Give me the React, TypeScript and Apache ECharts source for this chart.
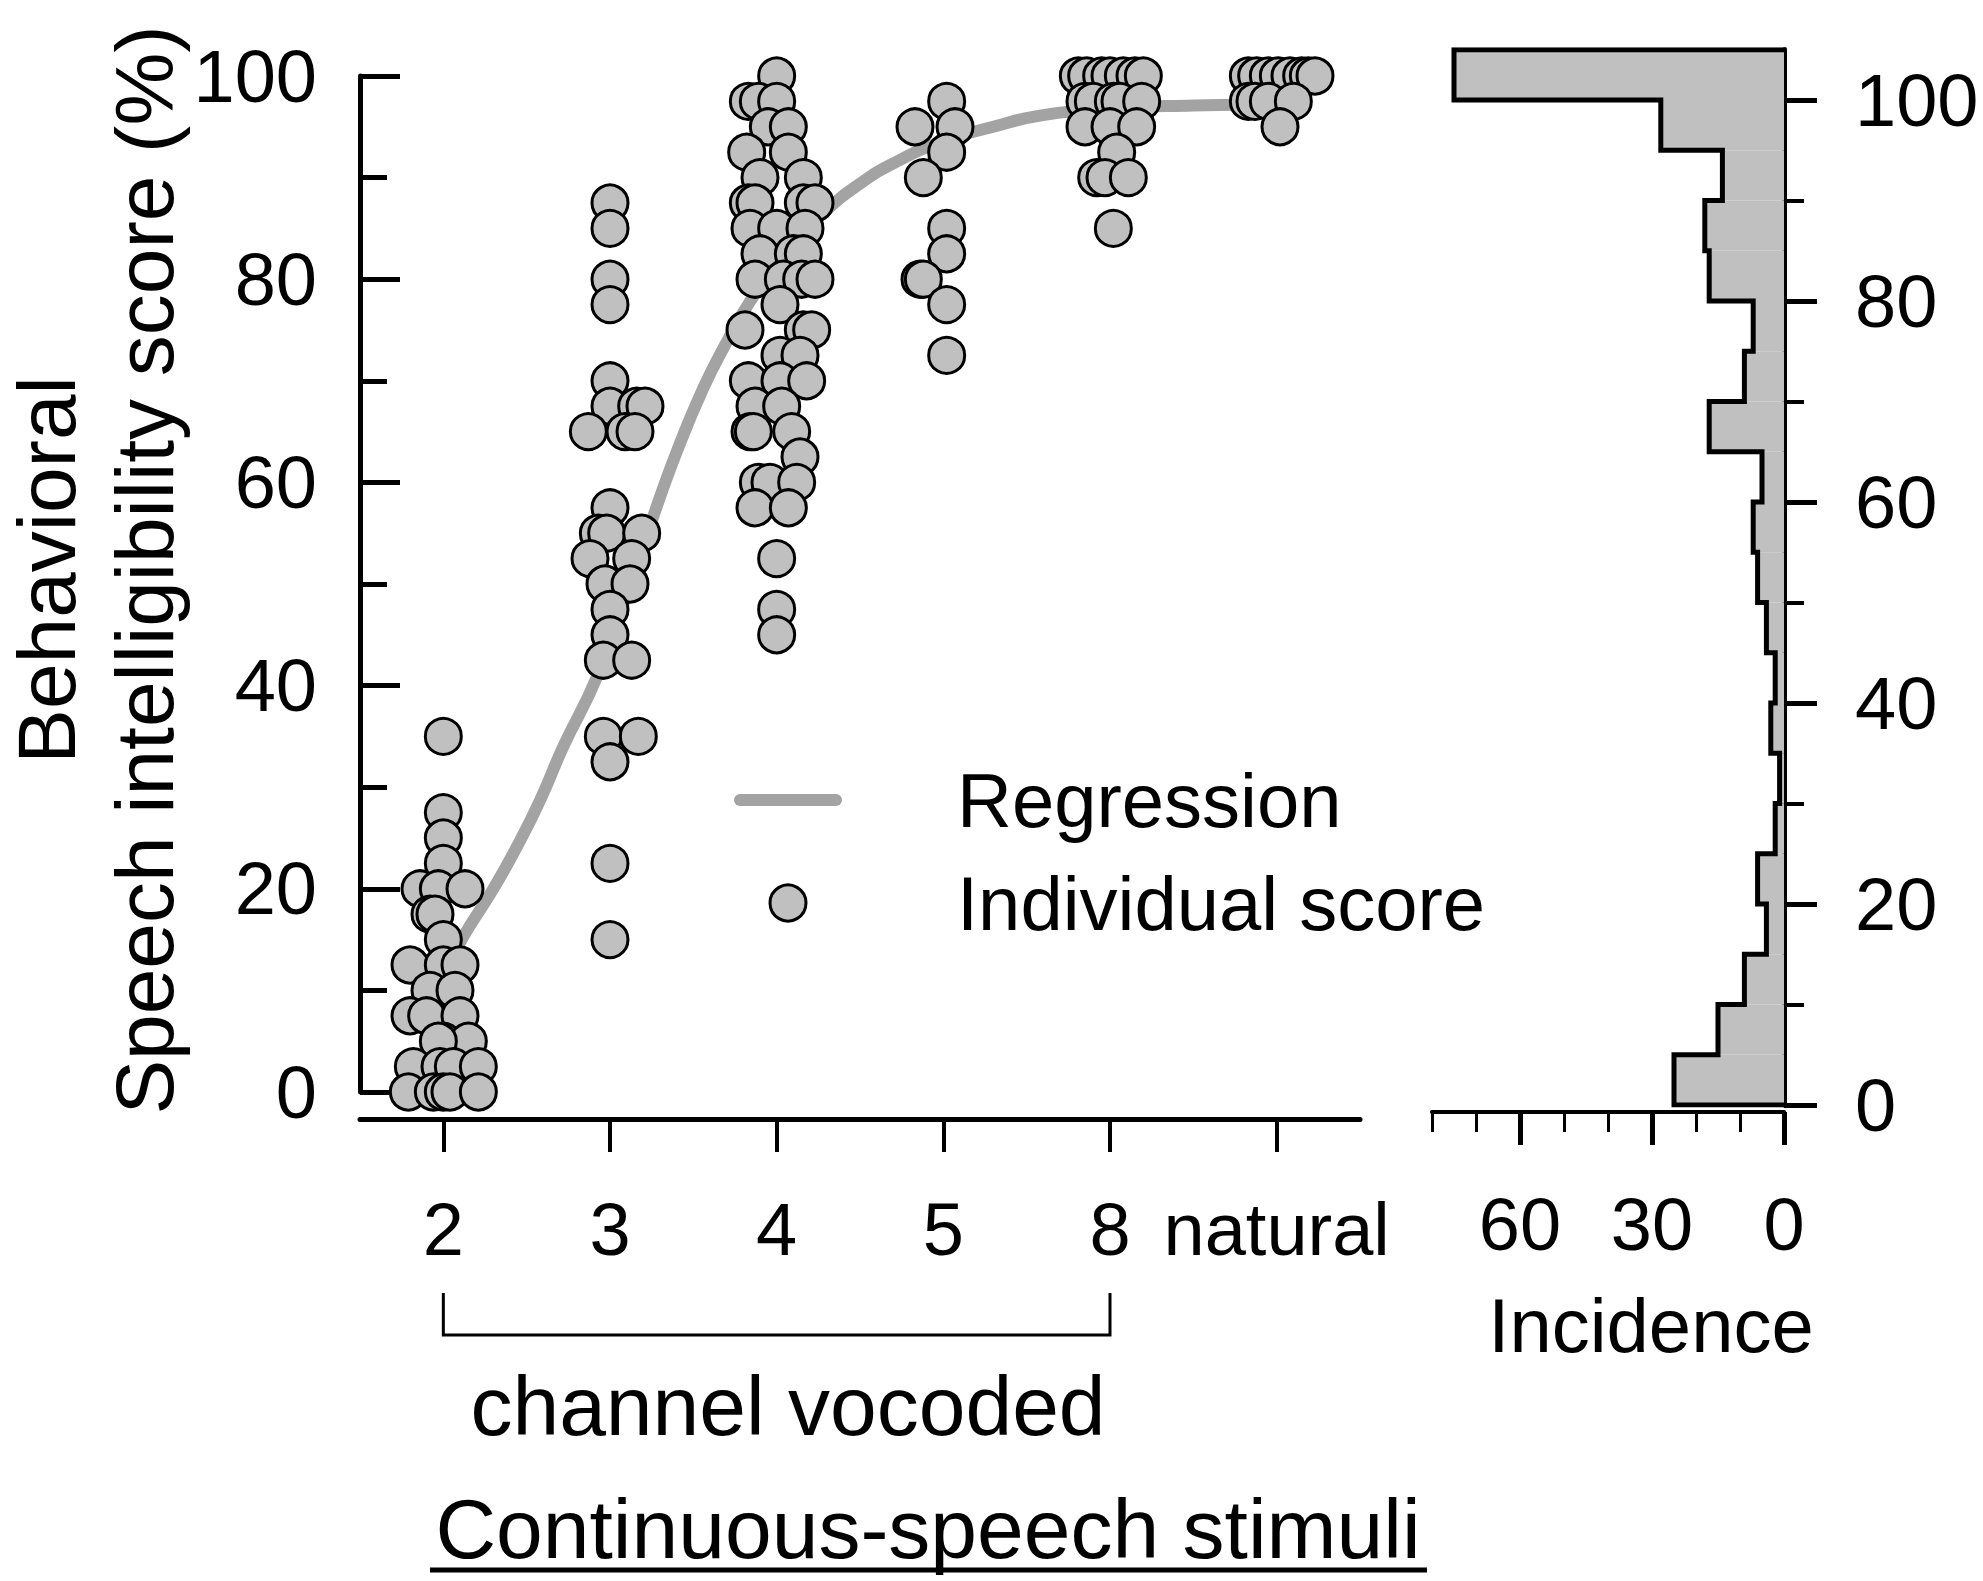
import React, { useEffect, useRef } from "react";
import * as echarts from "echarts";

const FONT = '"Liberation Sans", Arial, sans-serif';

// Stimulus conditions (x categories)
const categories = ["2", "3", "4", "5", "8", "natural"];

// Individual scores per condition: [horizontal jitter in category units, score %]
const scores2ch = [
  [0, 35], [0, 27.5], [0, 25], [0, 22.5],
  [-0.14, 20], [-0.03, 20], [0.13, 20], [-0.08, 17.5], [-0.05, 17.5], [0, 15],
  [-0.2, 12.5], [0, 12.5], [0.1, 12.5], [-0.08, 10], [0.07, 10],
  [-0.2, 7.5], [-0.1, 7.5], [0.1, 7.5], [0, 5], [0.15, 5], [-0.03, 5],
  [-0.18, 2.5], [-0.02, 2.5], [0.06, 2.5], [0.21, 2.5],
  [-0.21, 0], [-0.06, 0], [0, 0], [0.04, 0], [0.21, 0],
];
const scores3ch = [
  [0, 87.5], [0, 85], [0, 80], [0, 77.5], [0, 70],
  [0, 67.5], [0.16, 67.5], [0.21, 67.5], [-0.13, 65], [0.09, 65], [0.15, 65],
  [0, 57.5], [-0.07, 55], [-0.02, 55], [0.19, 55], [-0.12, 52.5], [0.13, 52.5],
  [-0.03, 50], [0.12, 50], [0, 47.5], [0, 45], [-0.04, 42.5], [0.13, 42.5],
  [-0.04, 35], [0.17, 35], [0, 32.5], [0, 22.5], [0, 15],
];
const scores4ch = [
  [0, 100], [-0.17, 97.5], [-0.11, 97.5], [0, 97.5], [-0.05, 95], [0.07, 95],
  [-0.18, 92.5], [0.07, 92.5], [-0.1, 90], [0.16, 90],
  [-0.17, 87.5], [-0.13, 87.5], [0.16, 87.5], [0.23, 87.5],
  [-0.16, 85], [0, 85], [0.17, 85], [-0.1, 82.5], [0.1, 82.5], [0.16, 82.5],
  [-0.13, 80], [0.04, 80], [0.15, 80], [0.23, 80], [0.02, 77.5],
  [-0.19, 75], [0.16, 75], [0.21, 75], [0.02, 72.5], [0.14, 72.5],
  [-0.17, 70], [0.02, 70], [0.18, 70], [-0.13, 67.5], [0.03, 67.5],
  [-0.16, 65], [-0.14, 65], [0.09, 65], [0.14, 62.5],
  [-0.11, 60], [-0.04, 60], [0.12, 60], [-0.13, 57.5], [0.07, 57.5],
  [0, 52.5], [0, 47.5], [0, 45],
];
const scores5ch = [
  [0.02, 97.5], [-0.17, 95], [0.07, 95], [0.02, 92.5], [-0.12, 90],
  [0.02, 85], [0.02, 82.5], [-0.14, 80], [-0.12, 80], [0.02, 77.5], [0.02, 72.5],
];
const scores8ch = [
  [-0.19, 100], [-0.14, 100], [-0.05, 100], [0, 100], [0.08, 100], [0.15, 100], [0.2, 100],
  [-0.15, 97.5], [-0.1, 97.5], [0.02, 97.5], [0.06, 97.5], [0.19, 97.5],
  [-0.15, 95], [0, 95], [0.16, 95], [0.04, 92.5],
  [-0.08, 90], [-0.03, 90], [0.11, 90], [0.02, 85],
];
const scoresNatural = [
  [-0.17, 100], [-0.12, 100], [-0.05, 100], [0.01, 100], [0.08, 100], [0.15, 100], [0.19, 100], [0.23, 100],
  [-0.17, 97.5], [-0.13, 97.5], [-0.05, 97.5], [0.1, 97.5], [0.02, 95],
];

// Regression curve: [x position (category units), score %]
const regressionCurve = [
  [0.05, 13], [0.12, 15.3], [0.3, 20], [0.44, 24.1], [0.58, 28.7], [0.72, 34],
  [0.92, 40.8], [1.1, 49], [1.25, 56.2], [1.4, 63], [1.56, 69.3], [1.7, 73.8],
  [1.84, 77.8], [2.05, 82.6], [2.3, 86.8], [2.5, 89.4], [2.7, 91.4], [3.0, 93.6],
  [3.3, 95], [3.58, 96.1], [4.0, 96.8], [4.5, 97.1], [5.0, 97.2],
];

// Histogram of scores: bins of 5 % starting at 0 (last bin 100-105)
const histBinWidth = 5;
const histCounts = [25, 15, 9, 4, 6, 2, 1, 3, 2, 4, 6, 7, 5, 17, 9, 7, 17, 18, 14, 28, 75];

// Tick values
const mainYTicks = [0, 20, 40, 60, 80, 100];
const histYMajor = [0, 20, 40, 60, 80, 100];
const histYMinor = [10, 30, 50, 70, 90];
const histXMajor = [0, 30, 60];
const histXMinor = [10, 20, 40, 50, 70, 80];

const GRAY_FILL = "#c0c0c0";
const LINE_GRAY = "#a3a3a3";

export default function App() {
  const ref = useRef<HTMLDivElement>(null);

  useEffect(() => {
    if (!ref.current) return;
    const chart = echarts.init(ref.current, null, { renderer: "svg" });

    const groups = [scores2ch, scores3ch, scores4ch, scores5ch, scores8ch, scoresNatural];
    const scatterData = groups.flatMap((g, i) => g.map(([dx, s]) => [i + dx, s]));

    const histRects = histCounts.map((c, i) => [c, i * histBinWidth, (i + 1) * histBinWidth]);
    const outline: number[][] = [[0, 0]];
    histCounts.forEach((c, i) => {
      outline.push([c, i * histBinWidth]);
      outline.push([c, (i + 1) * histBinWidth]);
    });
    outline.push([0, histCounts.length * histBinWidth]);

    const axisLabelStyle = { fontFamily: FONT, fontSize: 74, color: "#000" };

    const option: any = {
      animation: false,
      backgroundColor: "#fff",
      grid: [
        { left: 360, right: 623, top: 76, bottom: 489 },
        { left: 1432, right: 199, top: 49.75, bottom: 476 },
      ],
      xAxis: [
        {
          type: "value", gridIndex: 0, min: -0.5, max: 5.5, show: false,
          axisLine: { onZero: false },
          splitLine: { show: false },
        },
        {
          type: "category", gridIndex: 0, data: categories, position: "bottom",
          boundaryGap: true, offset: 27,
          axisLine: { show: true, onZero: false, lineStyle: { color: "#000", width: 5 } },
          axisTick: { show: true, alignWithLabel: true, length: 33, lineStyle: { color: "#000", width: 4 } },
          axisLabel: { ...axisLabelStyle, margin: 73, interval: 0 },
          splitLine: { show: false },
        },
        {
          type: "value", gridIndex: 1, min: 0, max: 80, inverse: true, offset: 7, position: "bottom",
          axisLine: { show: true, onZero: false, lineStyle: { color: "#000", width: 4 } },
          axisTick: { show: true, customValues: histXMajor, length: 33, lineStyle: { color: "#000", width: 5 } },
          axisLabel: { ...axisLabelStyle, customValues: histXMajor, margin: 75 },
          splitLine: { show: false },
        },
        {
          type: "value", gridIndex: 1, min: 0, max: 80, inverse: true, offset: 7, position: "bottom",
          axisLine: { show: false, onZero: false },
          axisTick: { show: true, customValues: histXMinor, length: 20, lineStyle: { color: "#000", width: 3 } },
          axisLabel: { show: false },
          splitLine: { show: false },
        },
      ],
      yAxis: [
        {
          type: "value", gridIndex: 0, min: 0, max: 100, interval: 20, position: "left",
          axisLine: { show: true, onZero: false, lineStyle: { color: "#000", width: 5 } },
          axisTick: { show: true, inside: true, length: 40, lineStyle: { color: "#000", width: 5 } },
          minorTick: { show: true, splitNumber: 2, length: 27, lineStyle: { color: "#000", width: 5 } },
          axisLabel: { ...axisLabelStyle, margin: 43, customValues: mainYTicks },
          splitLine: { show: false },
        },
        {
          type: "value", gridIndex: 1, min: 0, max: 105, position: "right",
          axisLine: { show: true, onZero: false, lineStyle: { color: "#000", width: 5 } },
          axisTick: { show: true, customValues: histYMajor, length: 33, lineStyle: { color: "#000", width: 5 } },
          axisLabel: { ...axisLabelStyle, customValues: histYMajor, margin: 71 },
          splitLine: { show: false },
        },
        {
          type: "value", gridIndex: 1, min: 0, max: 105, position: "right",
          axisLine: { show: false, onZero: false },
          axisTick: { show: true, customValues: histYMinor, length: 20, lineStyle: { color: "#000", width: 4 } },
          axisLabel: { show: false },
          splitLine: { show: false },
        },
      ],
      legend: {
        orient: "vertical",
        left: 734,
        top: 762,
        padding: 0,
        itemWidth: 108,
        itemHeight: 36,
        itemGap: 27,
        selectedMode: false,
        textStyle: { fontFamily: FONT, fontSize: 76, color: "#000", padding: [0, 0, 0, 110] },
        data: [
          {
            name: "Regression",
            icon: "path://M6,0 L102,0 A6,6 0 0 1 102,12 L6,12 A6,6 0 0 1 6,0 Z",
            itemStyle: { color: LINE_GRAY, borderWidth: 0 },
          },
          {
            name: "Individual score",
            icon: "circle",
            itemStyle: { color: GRAY_FILL, borderColor: "#000", borderWidth: 3 },
          },
        ],
      },
      series: [
        {
          name: "Regression",
          type: "line",
          xAxisIndex: 0, yAxisIndex: 0,
          data: regressionCurve,
          smooth: true,
          symbol: "none",
          itemStyle: { color: LINE_GRAY },
          lineStyle: { color: LINE_GRAY, width: 12, cap: "round" },
          z: 1,
        },
        {
          name: "Individual score",
          type: "scatter",
          xAxisIndex: 0, yAxisIndex: 0,
          data: scatterData,
          symbol: "circle",
          symbolSize: 36,
          itemStyle: { color: GRAY_FILL, borderColor: "#000", borderWidth: 3, opacity: 1 },
          z: 2,
        },
        {
          name: "Histogram",
          type: "custom",
          xAxisIndex: 2, yAxisIndex: 1,
          data: histRects,
          renderItem: (params: any, api: any) => {
            const c = api.value(0);
            const lo = api.value(1);
            const hi = api.value(2);
            const p1 = api.coord([0, hi]);
            const p2 = api.coord([c, lo]);
            const x = Math.min(p1[0], p2[0]);
            const y = Math.min(p1[1], p2[1]);
            return {
              type: "rect",
              shape: { x, y, width: Math.abs(p1[0] - p2[0]), height: Math.abs(p1[1] - p2[1]) },
              style: { fill: GRAY_FILL, stroke: null },
            };
          },
          z: 1,
        },
        {
          name: "Histogram outline",
          type: "line",
          xAxisIndex: 2, yAxisIndex: 1,
          data: outline,
          symbol: "none",
          lineStyle: { color: "#000", width: 5, join: "miter", cap: "square" },
          z: 2,
        },
      ],
    };

    chart.setOption(option);

    const xStart = chart.convertToPixel({ xAxisIndex: 0 }, 0) as number;
    const xEnd = chart.convertToPixel({ xAxisIndex: 0 }, 4) as number;

    chart.setOption({
      graphic: [
        {
          type: "text", x: 46, y: 570, rotation: Math.PI / 2,
          style: { text: "Behavioral", font: `82px ${FONT}`, fill: "#000", textAlign: "center", textVerticalAlign: "middle" },
        },
        {
          type: "text", x: 144, y: 570, rotation: Math.PI / 2,
          style: { text: "Speech intelligibility score (%)", font: `82px ${FONT}`, fill: "#000", textAlign: "center", textVerticalAlign: "middle" },
        },
        {
          type: "polyline",
          shape: { points: [[xStart, 1293], [xStart, 1335], [xEnd, 1335], [xEnd, 1293]] },
          style: { stroke: "#000", lineWidth: 3, fill: null },
        },
        {
          type: "text", x: 1651, y: 1325,
          style: { text: "Incidence", font: `76px ${FONT}`, fill: "#000", textAlign: "center", textVerticalAlign: "middle" },
        },
        {
          type: "text", x: 788, y: 1406,
          style: { text: "channel vocoded", font: `84px ${FONT}`, fill: "#000", textAlign: "center", textVerticalAlign: "middle" },
        },
        {
          type: "text", x: 928, y: 1529,
          style: { text: "Continuous-speech stimuli", font: `84px ${FONT}`, fill: "#000", textAlign: "center", textVerticalAlign: "middle" },
        },
        {
          type: "line",
          shape: { x1: 430, y1: 1570, x2: 1427, y2: 1570 },
          style: { stroke: "#000", lineWidth: 5 },
        },
      ],
    });

    return () => chart.dispose();
  }, []);

  return (
    <div
      ref={ref}
      style={{ position: "absolute", left: 0, top: 0, width: 1983, height: 1581, background: "#fff" }}
    />
  );
}
